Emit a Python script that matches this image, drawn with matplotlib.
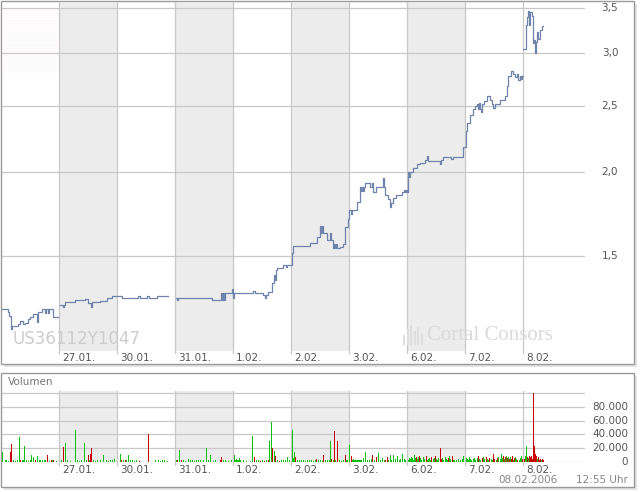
import numpy as np
import matplotlib.pyplot as plt
from matplotlib.patches import Rectangle

# time axis: 58 intraday slots per trading day, slot 0 = start of 26.01.
SLOTS = 58
day_labels = ['27.01.', '30.01.', '31.01.', '1.02.', '2.02.', '3.02.', '6.02.', '7.02.', '8.02.']

price_ticks = [1.5, 2.0, 2.5, 3.0, 3.5]
price_tick_labels = ['1,5', '2,0', '2,5', '3,0', '3,5']
vol_ticks = [0, 20000, 40000, 60000, 80000]
vol_tick_labels = ['0', '20.000', '40.000', '60.000', '80.000']

nan = float('nan')
price_slot = [1, 7, 8, 10, 11, 17, 19, 22, 24, 27, 29, 32, 36, 37, 41, 44, 45, 47, 48, 52, 57,
              59, 62, 63, 64, 74, 84, 87, 90, 91, 99, 106, 111,
              121, 137, 139, 146, 148, 156, 167,
              175, 176, 177, 211, 220, 221, 222, 223, 224, 231, 232, 233,
              252, 254, 262, 264, 265, 267, 271, 273, 274, 275, 276, 282, 285, 286, 291, 292,
              309, 316, 319, 320, 321, 322, 326, 329, 330, 332, 333, 334, 335, 336, 339, 342, 344, 347,
              348, 350, 351, 356, 359, 360, 361, 362, 363, 364, 369, 371, 372, 375, 382, 383, 384, 387,
              389, 390, 392, 395, 401, 403, 404, 405, 406,
              407, 408, 409, 412, 416, 419, 424, 426, 427, 439, 440, 442, 450, 452, 462,
              465, 466, 469, 472, 474, 476, 477, 478, 479, 480, 481, 483, 486, 489, 491, 492, 494, 499,
              504, 506, 507, 510, 512, 514, 516, 517, 519, 520, 521, 521.8,
              522, 525, 526, 527, 528, 529, 531, 532, 533, 534, 535, 536, 537, 539, 541, 542]
price = [1.251, 1.238, 1.222, 1.168, 1.181, 1.189, 1.201, 1.189, 1.193, 1.209, 1.218, 1.230, 1.197,
         1.239, 1.251, 1.234, 1.251, 1.234, 1.251, 1.218, nan,
         1.269, 1.260, 1.269, 1.281, 1.290, 1.295, 1.277, 1.260, 1.281, 1.286, 1.299, 1.308,
         1.299, 1.308, 1.299, 1.308, 1.299, 1.308, nan,
         1.299, 1.290, 1.299, 1.290, 1.322, 1.290, 1.322, 1.290, 1.322, 1.340, 1.299, 1.322,
         1.331, 1.322, 1.313, 1.299, 1.313, 1.326, 1.368, 1.406, 1.380, 1.430, 1.440, 1.455, 1.445,
         1.455, 1.515, 1.552,
         1.568, 1.601, 1.662, 1.623, 1.662, 1.623, 1.585, 1.623, 1.585, 1.542, 1.560, 1.542, 1.560,
         1.542, 1.547, 1.560, 1.657, 1.700,
         1.756, 1.730, 1.756, 1.804, 1.899, 1.870, 1.899, 1.870, 1.899, 1.926, 1.900, 1.926, 1.867,
         1.900, 1.959, 1.899, 1.848, 1.820, 1.774, 1.800, 1.830, 1.850, 1.867, 1.880, 1.867, 1.880, 1.867,
         2.000, 1.966, 2.000, 2.027, 2.055, 2.063, 2.085, 2.113, 2.077, 2.050, 2.085, 2.106, 2.090,
         2.106, 2.179,
         2.295, 2.366, 2.432, 2.482, 2.500, 2.517, 2.480, 2.530, 2.480, 2.457, 2.517, 2.550, 2.587,
         2.560, 2.517, 2.490, 2.517, 2.560, 2.587, 2.678, 2.771, 2.820, 2.790, 2.761, 2.790, 2.740,
         2.770, 2.750, 2.770, nan,
         3.039, 3.300, 3.390, 3.470, 3.300, 3.450, 3.410, 3.110, 3.140, 3.000, 3.120, 3.220, 3.150,
         3.250, 3.290, 3.290]

# volume per slot (thousands), up ticks (green) and down ticks (red)
up_slot = [1, 4, 5, 7, 12, 14, 16, 18, 21, 22, 23, 25, 27, 29, 30, 32, 36, 38, 39, 41, 43, 44, 48, 51, 55,
           60, 64, 66, 69, 74, 76, 78, 80, 83, 85, 88, 92, 94, 96, 99, 102, 105, 107, 109, 111, 113,
           119, 122, 125, 127, 129, 131, 133, 135, 154, 157, 159, 161, 163, 166,
           175, 178, 182, 184, 187, 189, 191, 193, 195, 197, 199, 202, 205, 207, 209, 212, 214, 222, 224, 227, 230,
           233, 234, 235, 236, 237, 238, 239, 242, 245, 249, 251, 255, 257, 261, 265, 268, 270, 273, 276, 280,
           282, 284, 286, 288,
           291, 292, 293, 296, 298, 300, 302, 304, 306, 308, 310, 312, 314, 317, 319, 321, 324, 326, 328, 329,
           332, 334, 338, 340, 342, 345, 346,
           348, 351, 352, 353, 354, 355, 356, 357, 358, 359, 360, 362, 364, 366, 368, 370, 373, 377, 379, 381,
           383, 387, 389, 390, 392, 394, 396, 398, 399, 401, 403, 404,
           407, 408, 409, 410, 411, 412, 413, 414, 416, 417, 419, 420, 422, 423, 426, 427, 428, 429, 432, 433,
           435, 436, 437, 441, 442, 444, 445, 446, 448, 449, 452, 453, 455, 457, 459, 461, 462,
           465, 466, 467, 468, 469, 470, 472, 473, 474, 476, 478, 479, 482, 483, 486, 487, 490, 491, 495, 497,
           499, 500, 501, 503, 505, 507, 509, 512, 514, 515, 518, 519, 520,
           524, 525, 527, 536, 540]
up_vol = [15, 3, 4, 2, 3, 2, 3, 37, 3, 4, 23, 3, 2, 4, 10, 7, 9, 3, 3, 3, 3, 3, 2, 3, 2,
          3, 28, 3, 2, 46, 3, 2, 3, 28, 3, 3, 4, 2, 3, 3, 10, 3, 2, 3, 4, 5,
          12, 3, 3, 10, 3, 4, 2, 3, 3, 4, 2, 4, 3, 2,
          3, 18, 3, 2, 5, 3, 3, 2, 3, 3, 4, 3, 20, 3, 10, 2, 3, 4, 3, 2, 3,
          10, 4, 5, 4, 3, 6, 4, 3, 2, 2, 38, 3, 3, 4, 3, 31, 58, 16, 3, 3, 4, 3, 7, 3,
          46, 6, 15, 3, 4, 3, 3, 2, 3, 3, 3, 2, 3, 3, 3, 2, 4, 3, 3, 31, 3, 4, 3, 2, 3, 3, 4,
          25, 4, 5, 4, 3, 4, 3, 4, 3, 3, 4, 6, 15, 4, 3, 5, 3, 13, 4, 6, 3, 4, 10, 4, 10, 5, 9, 4, 5, 12, 5, 4,
          4, 6, 5, 7, 6, 4, 10, 6, 5, 7, 6, 4, 8, 5, 4, 5, 6, 4, 5, 6, 5, 4, 6, 6, 4, 8, 5, 4, 9, 5,
          4, 3, 4, 5, 3, 5, 9,
          6, 5, 4, 7, 5, 4, 5, 6, 4, 6, 5, 4, 8, 5, 5, 4, 5, 4, 4, 7, 5, 12, 6, 5, 9, 8, 7, 4, 8, 5, 4, 6, 9,
          9, 23, 6, 5, 4]
down_slot = [9, 10, 19, 34, 46, 50, 52,
             62, 87, 89, 90,
             120, 124, 138, 147,
             176, 180, 219, 220,
             253, 259, 263, 267, 271, 274, 278,
             294, 315, 322, 330, 333, 336, 344,
             350, 371, 375, 384, 386,
             415, 418, 425, 430, 434, 439, 440, 447, 451,
             477, 481, 485, 488, 492, 493, 496, 502, 504, 506, 508, 510, 511, 513, 516, 521,
             523, 526, 528, 529, 530, 531, 532, 533, 534, 535, 537, 538, 539, 541, 542]
down_vol = [15, 26, 4, 4, 10, 4, 3,
            22, 10, 12, 20,
            4, 4, 2, 40,
            4, 4, 3, 7,
            7, 2, 2, 4, 20, 9, 2,
            7, 5, 10, 5, 45, 30, 10,
            9, 10, 8, 4, 7,
            7, 9, 9, 8, 9, 21, 5, 6, 9,
            9, 6, 7, 6, 12, 5, 6, 9, 7, 6, 5, 5, 9, 6, 4, 5,
            5, 8, 9, 8, 9, 5, 100, 23, 12, 9, 7, 4, 5, 5, 4]

W, H = 640, 492
GRID = '#c8c8c8'
SHADE = '#ececec'
TXT = '#555555'


def fx(x):
    return x / W


def fy(y):
    return 1 - y / H


plt.rcParams['hatch.linewidth'] = 0.5
fig = plt.figure(figsize=(6.4, 4.92), dpi=100)


def panel(x0, y0, x1, y1):
    fig.patches.append(Rectangle((fx(x0 + 3), fy(y1 + 3)), (x1 - x0) / W, (y1 - y0) / H,
                                 transform=fig.transFigure, fc='#e4e4e4', ec='none', zorder=-2))
    fig.patches.append(Rectangle((fx(x0), fy(y1)), (x1 - x0) / W, (y1 - y0) / H,
                                 transform=fig.transFigure, fc='white', ec='#9a9a9a', lw=1, zorder=-1))


panel(1, 1, 634, 364)
panel(1, 373, 634, 487)

x_end = 10 * SLOTS + 4


def background(ax, below, label_y):
    for k in range(1, 9, 2):
        ax.axvspan(k * SLOTS, (k + 1) * SLOTS, color=SHADE, lw=0, zorder=0)
    for k in range(1, 10):
        ax.axvline(k * SLOTS, ymin=-below, ymax=1, color=GRID, lw=0.9, clip_on=False, zorder=1)
        ax.text(k * SLOTS + 3, label_y, day_labels[k - 1],
                transform=ax.get_xaxis_transform(), ha='left', va='center',
                fontsize=7.5, color=TXT)


# price panel
ax = fig.add_axes([fx(2), fy(351), 583 / W, 349 / H])
ax.set_axis_off()
ax.set_zorder(1)
ax.set_yscale('log')
ax.set_xlim(1, x_end)
ax.set_ylim(1.0835, 3.573)
background(ax, 0.006, -0.02)
for v, lab in zip(price_ticks, price_tick_labels):
    ax.axhline(v, color=GRID, lw=0.9, zorder=1)
    ax.text(1.057, v, lab, transform=ax.get_yaxis_transform(), ha='right', va='center',
            fontsize=7.5, color=TXT)
ax.add_patch(Rectangle((fx(2), fy(73)), 57 / W, 65 / H, transform=fig.transFigure,
                       fill=False, hatch='--------', ec='#fcf4f6', lw=0, zorder=0.5))
ax.plot(price_slot, price, drawstyle='steps-post', color='#7083ac', lw=0.9, zorder=3)

fig.text(fx(12), fy(339), 'US36112Y1047', fontsize=12, color='#cdcdcd', va='center', zorder=2)
fig.text(fx(427), fy(336), 'Cortal Consors', fontsize=15, color='#dadada', va='center',
         family='Liberation Serif', zorder=2)
for i, hgt in enumerate([10, 16, 20, 14, 18, 12]):
    fig.patches.append(Rectangle((fx(403 + i * 3.6), fy(345)), 2 / W, hgt / H,
                                 transform=fig.transFigure, fc='#dedede', ec='none', zorder=2))

# volume panel
vax = fig.add_axes([fx(2), fy(462.3), 583 / W, 71.3 / H])
vax.set_axis_off()
vax.set_zorder(1)
vax.set_xlim(1, x_end)
vax.set_ylim(0, 102400)
background(vax, 0.042, -0.105)
for v, lab in zip(vol_ticks + [100000], vol_tick_labels + ['']):
    vax.axhline(v, color=GRID, lw=0.9, zorder=1)
    vax.text(1.0738, v, lab, transform=vax.get_yaxis_transform(), ha='right', va='center',
             fontsize=7.5, color=TXT)
vax.bar(up_slot, np.array(up_vol) * 1000, width=1.0, color='#10c010', lw=0, zorder=3)
vax.bar(down_slot, np.array(down_vol) * 1000, width=1.0, color='#c80000', lw=0, zorder=3)

fig.text(fx(8), fy(382), 'Volumen', fontsize=7.5, color='#777777', va='center')
fig.text(fx(558), fy(480), '08.02.2006', fontsize=7.5, color='#888888', va='center', ha='right')
fig.text(fx(628), fy(480), '12:55 Uhr', fontsize=7.5, color='#888888', va='center', ha='right')

fig.savefig('out.png', dpi=100)
